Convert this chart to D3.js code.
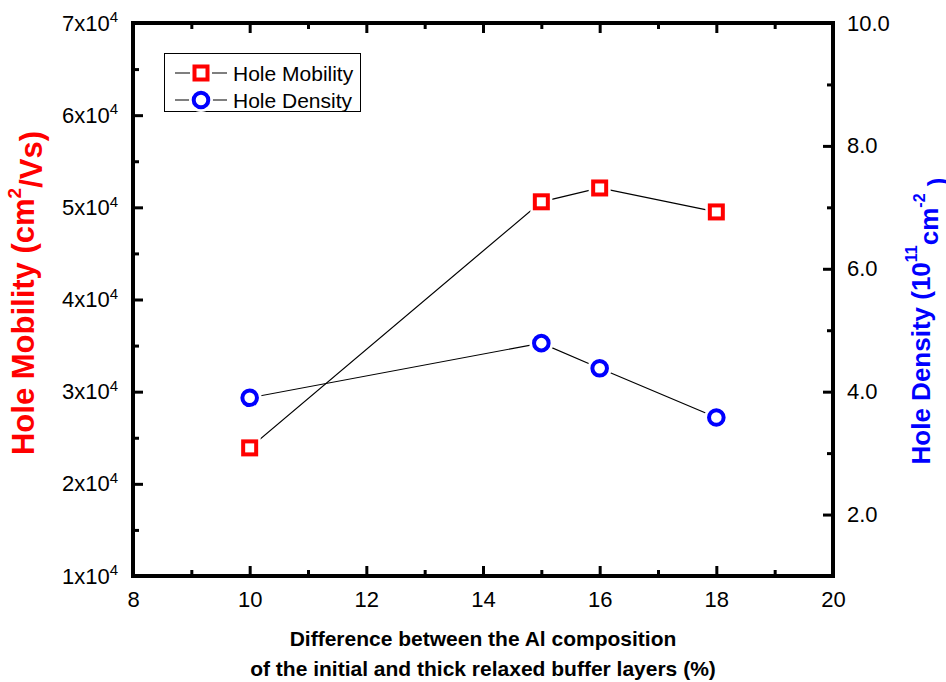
<!DOCTYPE html>
<html>
<head>
<meta charset="utf-8">
<script src="https://cdn.jsdelivr.net/npm/d3@7"></script>
<style>
  body { margin: 0; background: #fff; }
  text { font-family: "Liberation Sans", Arial, sans-serif; }
</style>
</head>
<body>
<svg id="chart" width="946" height="682"></svg>
<script>
// data
var composition = [10, 15, 16, 18];
var holeMobility = [2.39e4, 5.06e4, 5.21e4, 4.95e4];
var holeDensity = [3.90, 4.79, 4.38, 3.58];

var xTicks = [8, 10, 12, 14, 16, 18, 20];
var xMinor = [9, 11, 13, 15, 17, 19];
var leftTicks = [1, 2, 3, 4, 5, 6, 7];          // x10^4
var leftMinor = [1.5, 2.5, 3.5, 4.5, 5.5, 6.5];
var rightTicks = [2, 4, 6, 8, 10];
var rightMinor = [1, 3, 5, 7, 9];

var svg = d3.select("#chart");
var m = { left: 133, right: 833, top: 23, bottom: 576 };

var x = d3.scaleLinear().domain([8, 20]).range([m.left, m.right]);
var yL = d3.scaleLinear().domain([1e4, 7e4]).range([m.bottom, m.top]);
var yR = d3.scaleLinear().domain([1, 10]).range([m.bottom, m.top]);

// axes (ticks point inward)
function styleAxis(g) {
  g.select(".domain").remove();
  g.selectAll(".tick line").style("stroke", "#000").style("stroke-width", "3px");
  g.selectAll(".tick text").attr("font-size", 22).attr("fill", "#000")
    .attr("font-family", "Liberation Sans, Arial, sans-serif");
}

var bottom = svg.append("g").attr("transform", "translate(0," + m.bottom + ")")
  .call(d3.axisBottom(x).tickValues(xTicks).tickSize(-10).tickPadding(15).tickFormat(d3.format("d")));
styleAxis(bottom);
bottom.selectAll(".tick text").attr("dy", "0.71em");

svg.append("g").attr("transform", "translate(0," + m.bottom + ")")
  .call(d3.axisBottom(x).tickValues(xMinor).tickSize(-6).tickFormat(""))
  .call(styleAxis);

svg.append("g").attr("transform", "translate(0," + m.top + ")")
  .call(d3.axisTop(x).tickValues(xTicks).tickSize(-10).tickFormat(""))
  .call(styleAxis);
svg.append("g").attr("transform", "translate(0," + m.top + ")")
  .call(d3.axisTop(x).tickValues(xMinor).tickSize(-6).tickFormat(""))
  .call(styleAxis);

var left = svg.append("g").attr("transform", "translate(" + m.left + ",0)")
  .call(d3.axisLeft(yL).tickValues(leftTicks.map(function (d) { return d * 1e4; }))
    .tickSize(-10).tickPadding(15).tickFormat(function (d) { return (d / 1e4) + "x10"; }));
styleAxis(left);
left.selectAll(".tick text").append("tspan")
  .attr("dy", "-0.55em").attr("font-size", 15).text("4");

svg.append("g").attr("transform", "translate(" + m.left + ",0)")
  .call(d3.axisLeft(yL).tickValues(leftMinor.map(function (d) { return d * 1e4; })).tickSize(-6).tickFormat(""))
  .call(styleAxis);

var right = svg.append("g").attr("transform", "translate(" + m.right + ",0)")
  .call(d3.axisRight(yR).tickValues(rightTicks).tickSize(-10).tickPadding(14).tickFormat(d3.format(".1f")));
styleAxis(right);

svg.append("g").attr("transform", "translate(" + m.right + ",0)")
  .call(d3.axisRight(yR).tickValues(rightMinor).tickSize(-6).tickFormat(""))
  .call(styleAxis);

// frame
svg.append("rect")
  .attr("x", m.left).attr("y", m.top)
  .attr("width", m.right - m.left).attr("height", m.bottom - m.top)
  .style("fill", "none").style("stroke", "#000").style("stroke-width", "4px");

// series lines
var mobLine = d3.line().x(function (d, i) { return x(composition[i]); }).y(function (d) { return yL(d); });
var denLine = d3.line().x(function (d, i) { return x(composition[i]); }).y(function (d) { return yR(d); });

svg.append("path").attr("d", mobLine(holeMobility)).attr("fill", "none").attr("stroke", "#000").attr("stroke-width", 1.2);
svg.append("path").attr("d", denLine(holeDensity)).attr("fill", "none").attr("stroke", "#000").attr("stroke-width", 1.2);

// markers, with a white halo to leave a small gap in the line
function square(g, cx, cy) {
  g.append("rect").attr("x", cx - 11).attr("y", cy - 11).attr("width", 22).attr("height", 22).attr("fill", "#fff");
  g.append("rect").attr("x", cx - 6.5).attr("y", cy - 6.5).attr("width", 13).attr("height", 13)
    .attr("fill", "#fff").attr("stroke", "#ff0000").attr("stroke-width", 4);
}
function circle(g, cx, cy) {
  g.append("circle").attr("cx", cx).attr("cy", cy).attr("r", 12).attr("fill", "#fff");
  g.append("circle").attr("cx", cx).attr("cy", cy).attr("r", 7.3)
    .attr("fill", "#fff").attr("stroke", "#0000ff").attr("stroke-width", 4);
}

var marks = svg.append("g");
holeMobility.forEach(function (d, i) { square(marks, x(composition[i]), yL(d)); });
holeDensity.forEach(function (d, i) { circle(marks, x(composition[i]), yR(d)); });

// legend
var legend = svg.append("g");
legend.append("rect").attr("x", 164.5).attr("y", 53.5).attr("width", 196).attr("height", 58)
  .attr("fill", "#fff").attr("stroke", "#000").attr("stroke-width", 1);
[["Hole Mobility", square, 73], ["Hole Density", circle, 100]].forEach(function (item) {
  var yy = item[2];
  legend.append("line").attr("x1", 175).attr("x2", 227).attr("y1", yy).attr("y2", yy)
    .attr("stroke", "#000").attr("stroke-width", 1.2);
  item[1](legend, 201, yy);
  legend.append("text").attr("x", 233).attr("y", yy + 7.5).attr("font-size", 21).text(item[0]);
});

// axis titles
var lt = svg.append("text")
  .attr("transform", "translate(34,293) rotate(-90)")
  .attr("text-anchor", "middle").attr("font-size", 31).attr("font-weight", "bold").attr("fill", "#ff0000");
lt.append("tspan").text("Hole Mobility (cm");
lt.append("tspan").attr("font-size", 19).attr("dy", "-0.7em").text("2");
lt.append("tspan").attr("dy", "0.7em").text("/Vs)");

var rt = svg.append("text")
  .attr("transform", "translate(930,321) rotate(-90)")
  .attr("text-anchor", "middle").attr("font-size", 26).attr("font-weight", "bold").attr("fill", "#0000ff");
rt.append("tspan").text("Hole Density (10");
rt.append("tspan").attr("font-size", 16).attr("dy", "-0.8em").text("11");
rt.append("tspan").attr("dy", "0.8em").text("cm");
rt.append("tspan").attr("font-size", 16).attr("dy", "-0.8em").text("-2");
rt.append("tspan").attr("dy", "0.8em").text(" )");

svg.append("text").attr("x", 483).attr("y", 646).attr("text-anchor", "middle")
  .attr("font-size", 21).attr("font-weight", "bold").text("Difference between the Al composition");
svg.append("text").attr("x", 483).attr("y", 676).attr("text-anchor", "middle")
  .attr("font-size", 21).attr("font-weight", "bold").text("of the initial and thick relaxed buffer layers (%)");
</script>
</body>
</html>
